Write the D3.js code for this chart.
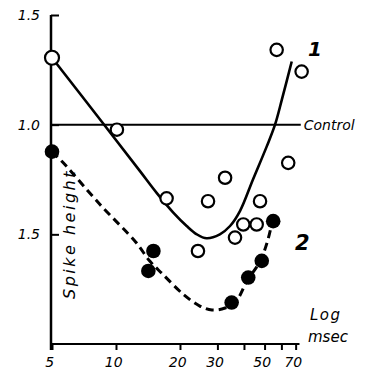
<!DOCTYPE html>
<html>
<head>
<meta charset="utf-8">
<script src="https://cdn.jsdelivr.net/npm/d3@7"></script>
<style>
  html, body { margin: 0; padding: 0; background: #fff; }
  svg { display: block; }
  text { font-family: "DejaVu Sans", sans-serif; font-style: italic; fill: #000; }
</style>
</head>
<body>
<svg id="chart" width="366" height="370"></svg>
<script>
// Interval (msec, log scale) vs relative spike height
const xTicks = [5, 10, 20, 30, 40, 50, 60, 70];
const xTickLabels = ["5", "10", "20", "30", "", "50", "", "70"];
const yTicks = [1.5, 1.0, 0.5];
const yTickLabels = ["1.5", "1.0", "1.5"];
const controlLevel = 1.0;

// Curve 1: open circles
const openX = [5, 10.1, 17.3, 24.3, 27.1, 32.6, 36.3, 39.7, 45.9, 47.6, 57.0, 64.6, 74.7];
const openY = [1.305, 0.977, 0.664, 0.424, 0.651, 0.758, 0.485, 0.545, 0.545, 0.651, 1.341, 0.826, 1.242];

// Curve 2: filled circles
const filledX = [5, 14.2, 15.0, 35.0, 41.9, 48.5, 54.9];
const filledY = [0.877, 0.333, 0.424, 0.189, 0.303, 0.379, 0.560];

// Hand-drawn fitted curves
const curve1X = [5, 8.87, 12.97, 15.5, 18.6, 21.5, 24.0, 26.7, 30.8, 34.4, 38.3, 44.1, 51.2, 56.0, 60.3, 67.1];
const curve1Y = [1.305, 0.995, 0.788, 0.690, 0.599, 0.538, 0.500, 0.482, 0.500, 0.538, 0.606, 0.750, 0.901, 1.000, 1.114, 1.288];
const curve2X = [5, 5.65, 8.41, 12.4, 14.45, 16.6, 20.7, 24.8, 28.3, 32.6, 36.7, 41.3, 47.6, 51.9, 54.8];
const curve2Y = [0.877, 0.826, 0.636, 0.464, 0.377, 0.318, 0.227, 0.173, 0.155, 0.164, 0.195, 0.286, 0.377, 0.477, 0.577];

const svg = d3.select("#chart");

const x = d3.scaleLog().domain([5, 75]).range([52, 302]);
const y = d3.scaleLinear().domain([0, 1.5]).range([344, 15]);

// Axis lines
svg.append("line")
  .attr("x1", x(5) - 1).attr("x2", x(5) - 1)
  .attr("y1", y(1.5)).attr("y2", y(0) + 6)
  .attr("stroke", "#000").attr("stroke-width", 2.5);
svg.append("line")
  .attr("x1", x(5) - 1).attr("x2", x(73))
  .attr("y1", y(0)).attr("y2", y(0))
  .attr("stroke", "#000").attr("stroke-width", 2.2);

// X axis ticks and labels
const xAxis = d3.axisBottom(x)
  .tickValues(xTicks)
  .tickFormat((d, i) => xTickLabels[i])
  .tickSizeInner(6)
  .tickSizeOuter(0)
  .tickPadding(7);
const gx = svg.append("g").attr("transform", `translate(0,${y(0)})`).call(xAxis);
gx.select(".domain").remove();
gx.selectAll(".tick line").attr("stroke", "#000").attr("stroke-width", 2);
gx.selectAll(".tick text")
  .attr("dx", "-0.2em")
  .style("font-family", "DejaVu Sans, sans-serif")
  .style("font-style", "italic")
  .style("font-size", "14px");

// Y axis ticks (pointing inward) and labels
const yAxis = d3.axisLeft(y)
  .tickValues(yTicks)
  .tickFormat((d, i) => yTickLabels[i])
  .tickSizeInner(-8)
  .tickSizeOuter(0)
  .tickPadding(11);
const gy = svg.append("g").attr("transform", `translate(${x(5) - 1},0)`).call(yAxis);
gy.select(".domain").remove();
gy.selectAll(".tick line").attr("stroke", "#000").attr("stroke-width", 2);
gy.selectAll(".tick text")
  .style("font-family", "DejaVu Sans, sans-serif")
  .style("font-style", "italic")
  .style("font-size", "14px");

// Control level
svg.append("line")
  .attr("x1", x(5) - 1).attr("x2", x(74))
  .attr("y1", y(controlLevel)).attr("y2", y(controlLevel))
  .attr("stroke", "#000").attr("stroke-width", 2);
svg.append("text")
  .attr("x", x(74) + 3).attr("y", y(controlLevel) + 5)
  .style("font-size", "14px")
  .text("Control");

// Fitted curves
const line = d3.line()
  .x(d => x(d[0]))
  .y(d => y(d[1]))
  .curve(d3.curveCatmullRom.alpha(0.5));

svg.append("path")
  .datum(curve1X.map((v, i) => [v, curve1Y[i]]))
  .attr("d", line)
  .attr("fill", "none")
  .attr("stroke", "#000")
  .attr("stroke-width", 2.6);

svg.append("path")
  .datum(curve2X.map((v, i) => [v, curve2Y[i]]))
  .attr("d", line)
  .attr("fill", "none")
  .attr("stroke", "#000")
  .attr("stroke-width", 3)
  .attr("stroke-dasharray", "8,5");

// Data points
svg.append("g").selectAll("circle")
  .data(openX.map((v, i) => [v, openY[i]]))
  .join("circle")
  .attr("cx", d => x(d[0]))
  .attr("cy", d => y(d[1]))
  .attr("r", (d, i) => i === 0 ? 7 : 6.2)
  .attr("fill", "#fff")
  .attr("stroke", "#000")
  .attr("stroke-width", 2.2);

svg.append("g").selectAll("circle")
  .data(filledX.map((v, i) => [v, filledY[i]]))
  .join("circle")
  .attr("cx", d => x(d[0]))
  .attr("cy", d => y(d[1]))
  .attr("r", 7.3)
  .attr("fill", "#000");

// Curve numbers
svg.append("text")
  .attr("x", 308).attr("y", 56)
  .style("font-size", "20px").style("font-weight", "bold")
  .text("1");
svg.append("text")
  .attr("x", 295).attr("y", 250)
  .style("font-size", "21px").style("font-weight", "bold")
  .text("2");

// Axis titles
svg.append("text")
  .attr("transform", "translate(75,299) rotate(-90)")
  .style("font-size", "16px")
  .style("letter-spacing", "2.5px")
  .text("Spike height");
svg.append("text")
  .attr("x", 310).attr("y", 320)
  .style("font-size", "15px")
  .style("letter-spacing", "1.5px")
  .text("Log");
svg.append("text")
  .attr("x", 308).attr("y", 342)
  .style("font-size", "15px")
  .text("msec");
</script>
</body>
</html>
